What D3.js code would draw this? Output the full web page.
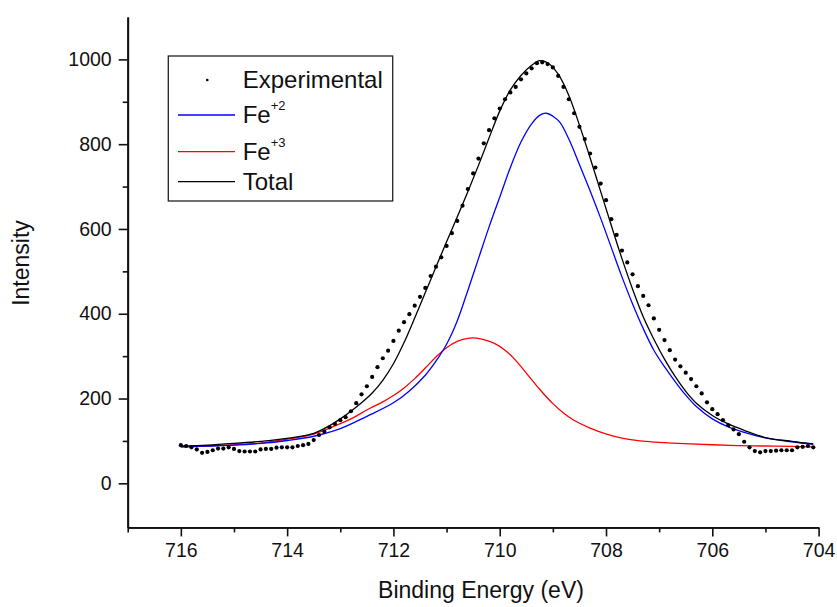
<!DOCTYPE html>
<html>
<head>
<meta charset="utf-8">
<script src="https://cdn.jsdelivr.net/npm/d3@7"></script>
<style>
  body { margin: 0; background: #fff; }
  text { font-family: "Liberation Sans", Arial, sans-serif; fill: #111; }
</style>
</head>
<body>
<div id="chart"></div>
<script>
// experimental points, 716.0 -> 704.1 eV every 0.1 eV
let expEnergy = d3.range(0, 120).map(i => +(716 - i * 0.1).toFixed(1));
let expIntensity = [
    90, 88, 85, 80, 72, 74, 78, 82, 82, 85,
    81, 76, 75, 75, 75, 80, 81, 81, 84, 85,
    85, 85, 88, 90, 93, 102, 114, 122, 132, 140,
    149, 156, 170, 189, 210, 229, 251, 274, 295, 313,
    336, 360, 380, 399, 419, 440, 461, 489, 511, 533,
    560, 590, 619, 655, 694, 731, 766, 802, 833, 861,
    884, 906, 922, 935, 953, 967, 979, 991, 993, 989,
    981, 961, 935, 906, 873, 841, 812, 778, 745, 707,
    668, 623, 586, 549, 521, 493, 465, 442, 420, 389,
    362, 338, 314, 292, 276, 261, 246, 229, 212, 191,
    175, 163, 149, 137, 127, 116, 98, 85, 76, 73,
    76, 76, 77, 78, 78, 78, 85, 86, 88, 85
];

let fe2Energy = [716, 715.5, 715, 714.5, 714, 713.5, 713, 712.5, 712, 711.7, 711.4, 711.2, 711, 710.8, 710.6, 710.4, 710.2, 710, 709.8, 709.6, 709.4, 709.25, 709.12, 709, 708.87, 708.7, 708.5, 708.3, 708.1, 707.9, 707.7, 707.5, 707.3, 707.1, 706.9, 706.7, 706.5, 706.3, 706, 705.7, 705.4, 705, 704.5, 704.1];
let fe2Intensity = [86, 88, 90, 94, 101, 111, 129, 158, 190, 218, 255, 288, 328, 383, 455, 530, 605, 675, 745, 805, 848, 868, 873, 866, 852, 812, 752, 690, 625, 556, 487, 423, 365, 314, 275, 240, 208, 181, 152, 133, 120, 107, 98, 92];

let fe3Energy = [716, 715.5, 715, 714.5, 714, 713.5, 713.07, 712.8, 712.44, 712.2, 712, 711.8, 711.6, 711.4, 711.2, 711, 710.8, 710.6, 710.5, 710.3, 710.1, 709.9, 709.7, 709.5, 709.25, 709, 708.8, 708.62, 708.3, 707.99, 707.68, 707.36, 707.05, 706.74, 706.42, 706, 705.5, 705, 704.5, 704.1];
let fe3Intensity = [86, 88, 91, 95, 104, 116, 137, 152, 177, 192, 207, 225, 247, 272, 298, 320, 335, 342, 343, 339, 330, 314, 290, 260, 222, 188, 166, 150, 130, 116, 106, 100, 97, 95, 93, 91, 89, 88, 87, 86];

let totEnergy = [716, 715.5, 715, 714.5, 714, 713.5, 713.2, 713, 712.8, 712.6, 712.4, 712.2, 712, 711.8, 711.6, 711.4, 711.2, 711, 710.8, 710.6, 710.4, 710.2, 710, 709.8, 709.6, 709.4, 709.25, 709.1, 708.9, 708.7, 708.5, 708.3, 708.1, 707.9, 707.7, 707.5, 707.3, 707.1, 706.9, 706.7, 706.5, 706.3, 706, 705.7, 705.4, 705, 704.5, 704.1];
let totIntensity = [88, 90, 94, 99, 106, 118, 136, 152, 170, 190, 213, 243, 282, 332, 390, 450, 510, 570, 628, 688, 750, 815, 878, 928, 962, 986, 997, 992, 965, 915, 845, 768, 688, 608, 530, 458, 393, 340, 293, 252, 217, 189, 160, 140, 125, 108, 99, 93];

let xMajor = [716, 714, 712, 710, 708, 706, 704];
let xMinor = [717, 715, 713, 711, 709, 707, 705];
let yMajor = [0, 200, 400, 600, 800, 1000];
let yMinor = [100, 300, 500, 700, 900];

let legendNames = ["Experimental", "Fe", "Fe", "Total"];
let legendSup = ["", "+2", "+3", ""];
let legendColors = ["#000", "#0000ff", "#ff0000", "#000"];

let larg = 837;
let alt = 607;

let canvas = d3.select("#chart")
                .append("svg")
                .attr("width", larg)
                .attr("height", alt);

var escalaX = d3.scaleLinear()
                .domain([717, 704])
                .range([127.7, 818.6]);

var escalaY = d3.scaleLinear()
                .domain([-104, 1100])
                .range([527.4, 17]);

function pares(xs, ys) {
    return xs.map((x, i) => [x, ys[i]]);
}

var linha = d3.line()
                .x(d => escalaX(d[0]))
                .y(d => escalaY(d[1]))
                .curve(d3.curveCatmullRom.alpha(0.5));

// axes
var eixoX = d3.axisBottom(escalaX)
                .tickValues(xMajor)
                .tickSize(9)
                .tickSizeOuter(0)
                .tickPadding(7)
                .tickFormat(d3.format("d"));
var eixoXmin = d3.axisBottom(escalaX)
                .tickValues(xMinor)
                .tickSize(5)
                .tickSizeOuter(0)
                .tickFormat("");
var eixoY = d3.axisLeft(escalaY)
                .tickValues(yMajor)
                .tickSize(9)
                .tickSizeOuter(0)
                .tickPadding(7)
                .tickFormat(d3.format("d"));
var eixoYmin = d3.axisLeft(escalaY)
                .tickValues(yMinor)
                .tickSize(5)
                .tickSizeOuter(0)
                .tickFormat("");

[[eixoXmin, "x"], [eixoX, "x"], [eixoYmin, "y"], [eixoY, "y"]].forEach(function(par) {
    var g = canvas.append("g")
        .attr("transform", par[1] == "x" ? "translate(0," + escalaY(-104) + ")" : "translate(" + escalaX(717) + ",0)")
        .call(par[0]);
    g.select(".domain").attr("stroke", "#111").attr("stroke-width", 1.8);
    g.selectAll(".tick line").attr("stroke", "#111").attr("stroke-width", 1.6);
    g.selectAll(".tick text")
        .style("font", "19.5px 'Liberation Sans', Arial, sans-serif")
        .attr("fill", "#111");
});

canvas.append("text")
        .attr("x", 481)
        .attr("y", 598)
        .attr("text-anchor", "middle")
        .style("font-size", "23px")
        .text("Binding Energy (eV)");

canvas.append("text")
        .attr("transform", "translate(29,263) rotate(-90)")
        .attr("text-anchor", "middle")
        .style("font-size", "23px")
        .text("Intensity");

// curves
var series = [
    {d: pares(fe3Energy, fe3Intensity), cor: "#ff0000"},
    {d: pares(fe2Energy, fe2Intensity), cor: "#0000ff"},
    {d: pares(totEnergy, totIntensity), cor: "#000"}
];
canvas.selectAll(".curva")
        .data(series)
        .enter()
        .append("path")
        .attr("class", "curva")
        .attr("d", s => linha(s.d))
        .attr("fill", "none")
        .attr("stroke", s => s.cor)
        .attr("stroke-width", 1.3);

canvas.selectAll(".ponto")
        .data(pares(expEnergy, expIntensity))
        .enter()
        .append("circle")
        .attr("class", "ponto")
        .attr("cx", d => escalaX(d[0]))
        .attr("cy", d => escalaY(d[1]))
        .attr("r", 2.1)
        .attr("fill", "#000");

// legend
var leg = canvas.append("g");
leg.append("rect")
        .attr("x", 168.3)
        .attr("y", 56)
        .attr("width", 224.4)
        .attr("height", 145)
        .attr("fill", "#fff")
        .attr("stroke", "#222")
        .attr("stroke-width", 1.3);

var legY = [80, 115, 151.7, 181.7];
legendNames.forEach(function(nome, i) {
    if (i == 0) {
        leg.append("circle")
            .attr("cx", 207.3)
            .attr("cy", legY[i])
            .attr("r", 1.3)
            .attr("fill", "#000");
    } else {
        leg.append("line")
            .attr("x1", 178)
            .attr("x2", 235)
            .attr("y1", legY[i])
            .attr("y2", legY[i])
            .attr("stroke", legendColors[i])
            .attr("stroke-width", 1.3);
    }
    var t = leg.append("text")
            .attr("x", 242.7)
            .attr("y", legY[i] + 8.3)
            .style("font-size", "24px")
            .text(nome);
    if (legendSup[i]) {
        t.append("tspan")
            .attr("dy", -13)
            .style("font-size", "13px")
            .text(legendSup[i]);
    }
});
</script>
</body>
</html>
